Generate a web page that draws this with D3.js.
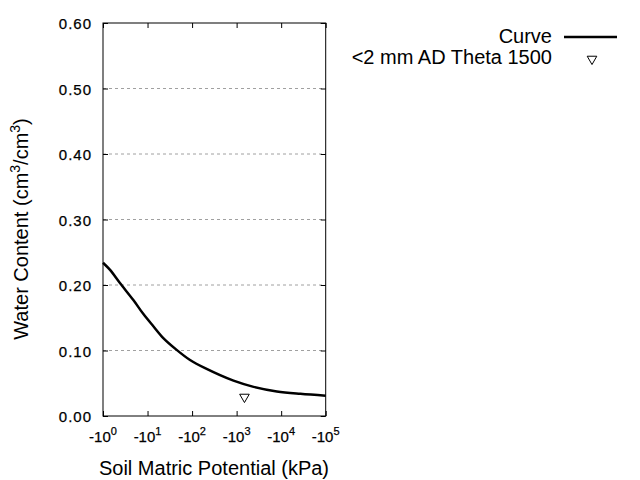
<!DOCTYPE html>
<html><head><meta charset="utf-8">
<script src="https://cdn.jsdelivr.net/npm/d3@7"></script>
<style>
body{margin:0;background:#fff;}
svg{display:block;font-family:"Liberation Sans",Arial,sans-serif;}
</style></head>
<body>
<svg id="chart" width="640" height="480"></svg>
<script>
// Data
const curvePotential = [-1, -1.44, -2.4, -4.8, -8, -13.5, -22.6, -45, -90, -196, -850, -2400, -8000, -27000, -100000];
const curveTheta     = [0.234, 0.223, 0.203, 0.177, 0.156, 0.137, 0.119, 0.101, 0.0855, 0.073, 0.0539, 0.0445, 0.0375, 0.0338, 0.031];
const pointPotential = [-1500];
const pointTheta     = [0.029];
const xTickValues = [-1, -10, -100, -1000, -10000, -100000];
const xTickExponents = ["0", "1", "2", "3", "4", "5"];
const yTickValues = [0, 0.1, 0.2, 0.3, 0.4, 0.5, 0.6];
const legendLabels = ["Curve", "<2 mm AD Theta 1500"];

const svg = d3.select("#chart");
const L = 103, R = 325.7, T = 23, B = 416;
const x = d3.scaleLog().domain([-1, -100000]).range([L, R]);
const y = d3.scaleLinear().domain([0, 0.6]).range([B, T]);

// gridlines
svg.append("g").selectAll("line").data(yTickValues.filter(v => v > 0 && v < 0.6)).join("line")
  .attr("x1", L).attr("x2", R).attr("y1", d => y(d)).attr("y2", d => y(d))
  .attr("stroke", "#a0a0a0").attr("stroke-width", 1).attr("stroke-dasharray", "3,3");

// axes (inward ticks)
const tickStyle = g => { g.select(".domain").remove(); g.selectAll("line").attr("stroke", "#000"); };
svg.append("g").attr("transform", `translate(0,${B})`)
  .call(d3.axisBottom(x).tickValues(xTickValues).tickSize(-5).tickFormat(""))
  .call(tickStyle);
svg.append("g").attr("transform", `translate(0,${T})`)
  .call(d3.axisTop(x).tickValues(xTickValues).tickSize(-5).tickFormat(""))
  .call(tickStyle);
svg.append("g").attr("transform", `translate(${L},0)`)
  .call(d3.axisLeft(y).tickValues(yTickValues).tickSize(-5).tickFormat(""))
  .call(tickStyle);
svg.append("g").attr("transform", `translate(${R},0)`)
  .call(d3.axisRight(y).tickValues(yTickValues).tickSize(-5).tickFormat(""))
  .call(tickStyle);

// y tick labels
svg.append("g").selectAll("text").data(yTickValues).join("text")
  .attr("x", 92).attr("y", d => y(d) + 6)
  .attr("text-anchor", "end").attr("font-size", 15).attr("letter-spacing", 1)
  .attr("fill", "#000").attr("stroke", "#000").attr("stroke-width", 0.25)
  .text(d => d3.format(".2f")(d));

// x tick labels
const xl = svg.append("g").selectAll("text").data(xTickValues).join("text")
  .attr("x", d => x(d)).attr("y", 442)
  .attr("text-anchor", "middle").attr("font-size", 15).attr("fill", "#000")
  .attr("stroke", "#000").attr("stroke-width", 0.25);
xl.append("tspan").text("-10");
xl.append("tspan").attr("font-size", 11).attr("dy", -7).text((d, i) => xTickExponents[i]);

// frame
svg.append("rect").attr("x", L).attr("y", T).attr("width", R - L).attr("height", B - T)
  .attr("fill", "none").attr("stroke", "#000").attr("stroke-width", 1);

// curve
const line = d3.line().x(d => x(d[0])).y(d => y(d[1])).curve(d3.curveCatmullRom.alpha(0.5));
svg.append("path").datum(curvePotential.map((p, i) => [p, curveTheta[i]]))
  .attr("d", line).attr("fill", "none").attr("stroke", "#000").attr("stroke-width", 2.5);

// points
const tri = d3.symbol().type(d3.symbolTriangle).size(40);
svg.append("g").selectAll("path").data(pointPotential.map((p, i) => [p, pointTheta[i]])).join("path")
  .attr("d", tri).attr("transform", d => `translate(${x(d[0])},${y(d[1])}) rotate(180)`)
  .attr("fill", "#fff").attr("stroke", "#000").attr("stroke-width", 1);

// axis titles
svg.append("text").attr("x", 214).attr("y", 475).attr("text-anchor", "middle")
  .attr("font-size", 20).attr("fill", "#000").text("Soil Matric Potential (kPa)");
const yt = svg.append("text").attr("transform", "translate(28,229) rotate(-90)")
  .attr("text-anchor", "middle").attr("font-size", 20).attr("fill", "#000");
yt.append("tspan").text("Water Content (cm");
yt.append("tspan").attr("font-size", 14).attr("dy", -8).text("3");
yt.append("tspan").attr("dy", 8).text("/cm");
yt.append("tspan").attr("font-size", 14).attr("dy", -8).text("3");
yt.append("tspan").attr("dy", 8).text(")");

// legend
const lg = svg.append("g");
lg.selectAll("text").data(legendLabels).join("text")
  .attr("x", 552).attr("y", (d, i) => 43 + i * 20.5)
  .attr("text-anchor", "end").attr("font-size", 20).attr("fill", "#000").text(d => d);
lg.append("line").attr("x1", 564).attr("x2", 617).attr("y1", 37).attr("y2", 37)
  .attr("stroke", "#000").attr("stroke-width", 2.5);
lg.append("path").attr("d", tri).attr("transform", "translate(592,59) rotate(180)")
  .attr("fill", "#fff").attr("stroke", "#000").attr("stroke-width", 1);
</script>
</body></html>
